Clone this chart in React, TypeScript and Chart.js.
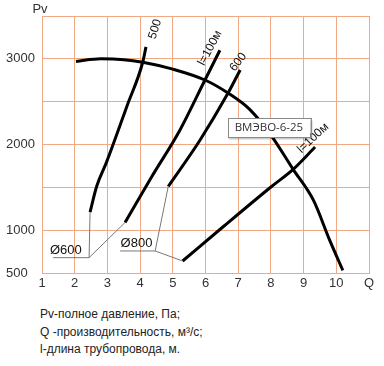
import React, { useEffect, useRef } from 'react';
import { Chart, registerables } from 'chart.js';
Chart.register(...registerables);

// Fan characteristic ВМЭВО-6-25 (Q, Pv)
const fanCurve: number[][] = [[2.04, 2970], [2.8, 3000], [3.5, 2990], [4.08, 2960], [5.0, 2880], [6.0, 2750], [6.69, 2600], [7.35, 2410], [8.0, 2110], [8.68, 1710], [9.3, 1350], [9.8, 880], [10.2, 530]];
// Duct Ø600
const d600_500: number[][] = [[2.47, 1210], [2.67, 1510], [2.98, 1800], [3.6, 2450], [4.08, 2960], [4.18, 3140]];
const d600_100: number[][] = [[3.54, 1090], [4.35, 1620], [5.22, 2170], [5.98, 2750], [6.44, 3100]];
// Duct Ø800
const d800_600: number[][] = [[4.86, 1510], [5.83, 2050], [6.69, 2600], [7.06, 2870]];
const d800_100: number[][] = [[5.3, 640], [6.54, 1040], [8.02, 1510], [8.68, 1710], [9.35, 1970]];
// Leader lines
const lead600a: number[][] = [[1.34, 679], [2.44, 679], [2.47, 1210]];
const lead600b: number[][] = [[2.44, 679], [3.54, 1090]];
const lead800a: number[][] = [[3.39, 757], [4.46, 757], [4.86, 1510]];
const lead800b: number[][] = [[4.46, 757], [5.3, 640]];

const yTickLabels = [500, 1000, 2000, 3000];
const xMin = 1, xMax = 11;
const yMin = 500, yMax = 3500;

const curveLabels = [
  { text: '500', x: 4.46, y: 3347, angle: -72 },
  { text: 'l=100м', x: 6.14, y: 3126, angle: -62 },
  { text: '600', x: 7.0, y: 2962, angle: -52 },
  { text: 'l=100м', x: 9.29, y: 2075, angle: -43 },
];
const diamLabels = [
  { text: 'Ø600', x: 1.73, y: 760 },
  { text: 'Ø800', x: 3.89, y: 846 },
];
const boxLabel = { text: 'ВМЭВО-6-25', x: 7.94, y: 2198 };
const notes = ['Pv-полное давление, Па;', 'Q -производительность, м³/с;', 'l-длина трубопровода, м.'];

const gridColor = 'rgb(241,168,132)';
const toPts = (a: number[][]) => a.map(([x, y]) => ({ x, y }));

const labelPlugin = {
  id: 'labels',
  afterDatasetsDraw(chart: any) {
    const { ctx, scales, chartArea } = chart;
    const sx = scales.x, sy = scales.y;
    ctx.save();
    ctx.fillStyle = '#111';
    ctx.font = '12px "Liberation Sans", Arial, sans-serif';
    ctx.textAlign = 'center';
    ctx.textBaseline = 'middle';
    for (const l of curveLabels) {
      ctx.save();
      ctx.translate(sx.getPixelForValue(l.x), sy.getPixelForValue(l.y));
      ctx.rotate((l.angle * Math.PI) / 180);
      ctx.fillText(l.text, 0, 0);
      ctx.restore();
    }
    ctx.font = '13px "Liberation Sans", Arial, sans-serif';
    for (const l of diamLabels) {
      ctx.fillText(l.text, sx.getPixelForValue(l.x), sy.getPixelForValue(l.y));
    }
    // Pv axis title
    ctx.fillStyle = '#333';
    ctx.textBaseline = 'alphabetic';
    ctx.fillText('Pv', chartArea.left - 2, chartArea.top - 3);
    ctx.textBaseline = 'middle';
    // box label
    ctx.font = '11.5px "Open Sans", sans-serif';
    const cx = sx.getPixelForValue(boxLabel.x), cy = sy.getPixelForValue(boxLabel.y);
    const w = ctx.measureText(boxLabel.text).width + 14, h = 19;
    ctx.save();
    ctx.shadowColor = 'rgba(0,0,0,0.3)';
    ctx.shadowOffsetX = 1.5; ctx.shadowOffsetY = 1.5; ctx.shadowBlur = 2;
    ctx.fillStyle = '#fff';
    ctx.fillRect(cx - w / 2, cy - h / 2, w, h);
    ctx.restore();
    ctx.strokeStyle = '#8a8a8a';
    ctx.lineWidth = 1;
    ctx.strokeRect(Math.round(cx - w / 2) + 0.5, Math.round(cy - h / 2) + 0.5, Math.round(w), h);
    ctx.fillStyle = '#333';
    ctx.fillText(boxLabel.text, cx, cy + 0.5);
    ctx.restore();
  },
};

export default function App() {
  const ref = useRef<HTMLCanvasElement>(null);
  useEffect(() => {
    if (!ref.current) return;
    const thick = (data: number[][]) => ({
      data: toPts(data), showLine: true, borderColor: '#000', borderWidth: 3, pointRadius: 0,
      tension: 0.4, cubicInterpolationMode: 'monotone' as const, fill: false, borderCapStyle: 'butt' as const,
    });
    const thin = (data: number[][]) => ({
      data: toPts(data), showLine: true, borderColor: '#777', borderWidth: 1, pointRadius: 0, tension: 0, fill: false,
    });
    const chart = new Chart(ref.current, {
      type: 'scatter',
      data: {
        datasets: [
          thin(lead600a), thin(lead600b), thin(lead800a), thin(lead800b),
          thick(d600_500), thick(d600_100), thick(d800_600), thick(d800_100), thick(fanCurve),
        ] as any,
      },
      options: {
        responsive: false,
        animation: false,
        layout: { padding: { left: 6, top: 16, right: 15, bottom: 0 } },
        plugins: { legend: { display: false }, tooltip: { enabled: false }, title: { display: false } },
        scales: {
          x: {
            type: 'linear', min: xMin, max: xMax,
            afterFit: (s: any) => { s.height = 27; },
            grid: { color: gridColor, drawTicks: false, lineWidth: 1 },
            border: { color: gridColor },
            ticks: {
              stepSize: 1, autoSkip: false, padding: 3, color: '#333', maxRotation: 0,
              font: { family: '"Liberation Sans", Arial, sans-serif', size: 13 },
              callback: (v: any) => (v === xMax ? 'Q' : String(v)),
            },
          },
          y: {
            type: 'linear', min: yMin, max: yMax,
            afterFit: (s: any) => { s.width = 36; },
            grid: { color: gridColor, drawTicks: false, lineWidth: 1 },
            border: { color: gridColor },
            ticks: {
              stepSize: 500, autoSkip: false, padding: 4, color: '#333', crossAlign: 'far',
              font: { family: '"Liberation Sans", Arial, sans-serif', size: 13 },
              callback: (v: any) => (yTickLabels.includes(v) ? String(v) : ''),
            },
          },
        },
      } as any,
      plugins: [labelPlugin],
    });
    return () => chart.destroy();
  }, []);
  return (
    <div style={{ position: 'absolute', left: 0, top: 0, width: 384, height: 366 }}>
      <canvas ref={ref} width={384} height={300} style={{ display: 'block', position: 'absolute', left: 0, top: 0 }} />
      <div style={{ position: 'absolute', left: 40, top: 306, font: '12px "Liberation Sans", Arial, sans-serif', color: '#222', lineHeight: '17.5px' }}>
        {notes.map((n, i) => (
          <div key={i}>{n}</div>
        ))}
      </div>
    </div>
  );
}
